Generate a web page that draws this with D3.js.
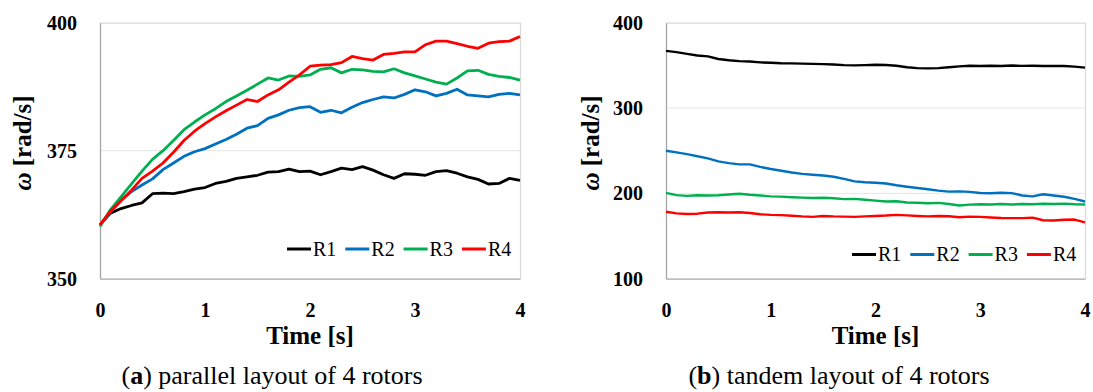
<!DOCTYPE html>
<html>
<head>
<meta charset="utf-8">
<script src="https://cdn.jsdelivr.net/npm/d3@7"></script>
<style>
  html, body { margin: 0; padding: 0; background: #fff; }
  svg { display: block; font-family: "Liberation Serif", "Times New Roman", serif; }
</style>
</head>
<body>
<svg id="chart" width="1093" height="392"></svg>
<script>
// ---- data ----
const time = [0,0.1,0.2,0.3,0.4,0.5,0.6,0.7,0.8,0.9,1.0,1.1,1.2,1.3,1.4,1.5,1.6,1.7,1.8,1.9,2.0,
              2.1,2.2,2.3,2.4,2.5,2.6,2.7,2.8,2.9,3.0,3.1,3.2,3.3,3.4,3.5,3.6,3.7,3.8,3.9,4.0];
const seriesNames = ["R1", "R2", "R3", "R4"];
const seriesColors = ["#000000", "#0070C0", "#00B050", "#FF0000"];

// (a) parallel layout
const parR1 = [360.5,362.8,363.7,364.3,364.8,366.6,366.7,366.6,367.0,367.5,367.8,368.6,369.0,369.6,369.9,370.2,370.8,370.9,371.4,370.9,371.0,
               370.3,370.9,371.6,371.3,371.9,371.2,370.3,369.6,370.5,370.4,370.2,370.9,371.1,370.6,369.9,369.4,368.5,368.6,369.6,369.2];
const parR2 = [360.5,363.0,365.3,367.0,368.3,369.5,371.3,372.6,373.9,374.8,375.4,376.3,377.2,378.2,379.4,379.9,381.3,382.0,382.9,383.4,383.6,
               382.5,382.9,382.4,383.5,384.4,385.0,385.5,385.3,386.0,386.9,386.5,385.7,386.2,387.0,385.9,385.7,385.5,386.0,386.2,385.9];
const parR3 = [360.2,363.5,366.0,368.5,371.0,373.3,375.0,377.0,379.1,380.6,382.0,383.2,384.6,385.7,386.8,388.0,389.2,388.8,389.6,389.5,389.8,
               390.9,391.2,390.2,390.9,390.8,390.5,390.4,391.0,390.2,389.6,389.0,388.4,388.0,389.2,390.6,390.7,389.9,389.5,389.3,388.8];
const parR4 = [360.5,363.2,365.2,367.3,369.6,371.0,372.6,374.7,377.0,378.8,380.3,381.6,382.8,383.9,385.0,384.6,385.9,386.9,388.4,389.8,391.5,
               391.7,391.8,392.2,393.4,393.0,392.7,393.8,394.0,394.3,394.3,395.7,396.4,396.4,395.9,395.4,395.0,396.0,396.3,396.4,397.3];

// (b) tandem layout
const tanR1 = [367,365.5,363.5,361.5,360.5,357.5,356,355,354.5,353.5,353,352.5,352.3,352,351.8,351.5,351,350.3,350,350.3,350.8,
               350.5,349.5,347.8,346.8,346.5,346.8,347.8,348.8,349.5,349.3,349.6,349.2,349.8,349.4,349.5,349.3,349.4,349.2,348.5,347.3];
const tanR2 = [250,248,246,243.5,241,237.5,235.5,234,234,231,228.5,226.5,224.5,222.8,221.8,221,219.5,217,214,213,212.5,
               211.5,209.5,207.8,206.3,204.8,203.2,202,202.3,201.7,200.5,200.2,200.8,200.3,197.5,196.5,199,197.5,196,193.5,190.5];
const tanR3 = [200.5,198,197,197.8,197.5,197.8,198.6,199.5,198.3,197.5,196.5,196.2,195.5,195,194.5,194.8,194.3,193.3,193.5,192.5,191.5,
               190.5,190.8,189.3,189,188.5,188.8,187.5,185.8,186.8,187.3,187,187.6,187,187.5,187.3,187.8,187.5,188,187.3,187];
const tanR4 = [178.5,176.5,175.8,176.2,177.5,177.8,177.5,177.8,177,175.5,174.8,174.5,173.8,173,172.5,173.5,173,172.8,172.5,173,173.5,
               174,174.8,174.2,173.5,173,173.5,173.2,172,172.8,172.5,171.8,171.2,171,171,171.5,168.5,168.2,169,169.3,166];

const xTicks = [0, 1, 2, 3, 4];
const parYTicks = [350, 375, 400];
const tanYTicks = [100, 200, 300, 400];
const yTitle = "[rad/s]";
const xTitle = "Time [s]";
const captions = [["a", " parallel layout of 4 rotors"], ["b", " tandem layout of 4 rotors"]];

// ---- drawing ----
const svg = d3.select("#chart");

function drawPanel(opt) {
  const g = svg.append("g");
  const x = d3.scaleLinear().domain([0, 4]).range([opt.left, opt.right]);
  const y = d3.scaleLinear().domain([opt.yTicks[0], opt.yTicks[opt.yTicks.length - 1]]).range([opt.bottom, opt.top]);

  // gridlines
  g.append("g").selectAll("line").data(opt.yTicks.slice(1, -1)).join("line")
    .attr("x1", opt.left).attr("x2", opt.right)
    .attr("y1", d => y(d)).attr("y2", d => y(d))
    .attr("stroke", "#e6e6e6").attr("stroke-width", 1);

  // frame top/right
  g.append("path")
    .attr("d", `M${opt.left},${opt.top + 0.5}H${opt.right + 0.5}V${opt.bottom}`)
    .attr("fill", "none").attr("stroke", "#d9d9d9").attr("stroke-width", 1.2);

  // axes (left / bottom)
  const xAxis = d3.axisBottom(x).tickValues(xTicks).tickSize(0).tickPadding(0).tickFormat(d3.format("d"));
  const gx = g.append("g").attr("transform", `translate(0,${opt.bottom})`).call(xAxis);
  gx.select(".domain").attr("stroke", "#a6a6a6").attr("stroke-width", 1.3);
  gx.selectAll("text").attr("dy", null).attr("y", 38).attr("fill", "#000")
    .style("font-family", '"Liberation Serif", serif').style("font-size", "20px").style("font-weight", "bold");

  const yAxis = d3.axisLeft(y).tickValues(opt.yTicks).tickSize(0).tickPadding(0).tickFormat(d3.format("d"));
  const gy = g.append("g").attr("transform", `translate(${opt.left},0)`).call(yAxis);
  gy.select(".domain").attr("stroke", "#a6a6a6").attr("stroke-width", 1.3);
  gy.selectAll("text").attr("dy", null).attr("x", -23).attr("y", 6.5).attr("fill", "#000")
    .style("font-family", '"Liberation Serif", serif').style("font-size", "20px").style("font-weight", "bold");

  // lines
  const line = d3.line().x((d, i) => x(time[i])).y(d => y(d));
  g.append("g").selectAll("path").data(opt.series).join("path")
    .attr("d", d => line(d))
    .attr("fill", "none")
    .attr("stroke", (d, i) => seriesColors[i])
    .attr("stroke-width", opt.lineWidth)
    .attr("stroke-linejoin", "round");

  // legend
  const leg = g.append("g").attr("transform", `translate(${opt.legendX},${opt.legendY})`);
  const items = leg.selectAll("g").data(seriesNames).join("g")
    .attr("transform", (d, i) => `translate(${i * 58.3},0)`);
  items.append("line").attr("x1", 0).attr("x2", 24).attr("y1", 0).attr("y2", 0)
    .attr("stroke", (d, i) => seriesColors[i]).attr("stroke-width", 3);
  items.append("text").attr("x", 26).attr("y", 6.5).text(d => d)
    .style("font-size", "20px").attr("fill", "#000");

  // x title
  g.append("text").attr("x", (opt.left + opt.right) / 2).attr("y", 344)
    .attr("text-anchor", "middle").style("font-size", "25px").style("font-weight", "bold")
    .text(xTitle);

  // y title
  const yt = g.append("text")
    .attr("transform", `translate(${opt.yTitleX},143) rotate(-90)`)
    .attr("text-anchor", "middle").style("font-size", "25px").style("font-weight", "bold");
  yt.append("tspan").style("font-style", "italic").text("ω");
  yt.append("tspan").text(" " + yTitle);

  // caption
  const cap = g.append("text").attr("x", opt.capX).attr("y", 384)
    .attr("text-anchor", "middle").style("font-size", "26px");
  cap.append("tspan").text("(");
  cap.append("tspan").style("font-weight", "bold").text(opt.caption[0]);
  cap.append("tspan").text(")" + opt.caption[1]);
}

drawPanel({
  left: 100, right: 520, top: 22.7, bottom: 278.7,
  yTicks: parYTicks, series: [parR1, parR2, parR3, parR4], lineWidth: 2.8,
  legendX: 287, legendY: 249, yTitleX: 31, capX: 272, caption: captions[0]
});
drawPanel({
  left: 666, right: 1085, top: 22.7, bottom: 278.7,
  yTicks: tanYTicks, series: [tanR1, tanR2, tanR3, tanR4], lineWidth: 2.4,
  legendX: 852, legendY: 254.5, yTitleX: 599, capX: 839, caption: captions[1]
});
</script>
</body>
</html>
